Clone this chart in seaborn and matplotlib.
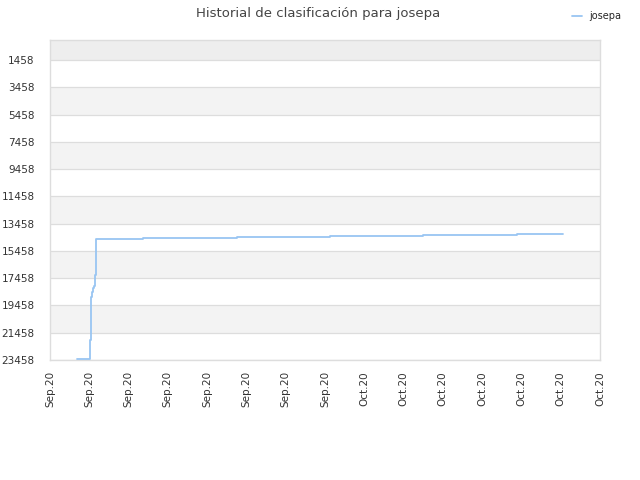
import numpy as np
import pandas as pd
import seaborn as sns
import matplotlib.pyplot as plt
import matplotlib.dates as mdates

# datos (dias desde el 23 sep 2020, posicion en la clasificacion)
dias = [0.68, 1.02, 1.04, 1.07, 1.09, 1.12, 1.14, 1.16, 2.36, 4.75, 7.13, 9.49, 11.88, 13.07]
posicion = [23400, 21990, 18820, 18450, 18180, 18010, 17220, 14580, 14490, 14420, 14340, 14270, 14200, 14200]
yticks = [1458, 3458, 5458, 7458, 9458, 11458, 13458, 15458, 17458, 19458, 21458, 23458]
inicio = pd.Timestamp("2020-09-23")
xticks = pd.date_range("2020-09-23", "2020-10-07", freq="D")

df = pd.DataFrame({
    "fecha": inicio + pd.to_timedelta(dias, unit="D"),
    "posicion": posicion,
    "jugador": "josepa",
})

sns.set_style("white")
plt.rcParams['font.family'] = ['DejaVu Sans']

fig = plt.figure(figsize=(6.4, 4.8), dpi=100)
ax = fig.add_axes([50 / 640, 120 / 480, 550 / 640, 320 / 480])

# bandas alternas de fondo
ax.axhspan(-8, yticks[0], color="#eeeeee", zorder=0, lw=0)
for i in range(len(yticks) - 1):
    if i % 2 == 1:
        ax.axhspan(yticks[i], yticks[i + 1], color="#f3f3f3", zorder=0, lw=0)
for y in yticks:
    ax.axhline(y, color="#dddddd", lw=0.9, zorder=1)

sns.lineplot(data=df, x="fecha", y="posicion", hue="jugador", palette=["#99c5f2"],
             drawstyle="steps-post", estimator=None, sort=False, lw=1.3, ax=ax,
             legend=False, zorder=3)

ax.set_ylim(23458, -8)
ax.set_yticks(yticks)
ax.set_xlim(xticks[0], xticks[-1])
ax.set_xticks(xticks)
ax.xaxis.set_major_formatter(mdates.DateFormatter("%b.%y"))
ax.tick_params(axis="x", rotation=90, length=0, pad=8, labelsize=7.5, labelcolor="#333333")
ax.tick_params(axis="y", length=0, pad=11, labelsize=7.5, labelcolor="#333333")
ax.set_xlabel("")
ax.set_ylabel("")
for s in ax.spines.values():
    s.set_color("#dddddd")
    s.set_linewidth(1)

fig.text(0.497, 0.972, "Historial de clasificación para josepa", ha="center", va="center",
         fontsize=9.5, color="#444444")
h = plt.Line2D([], [], color="#99c5f2", lw=1.3)
fig.legend([h], ["josepa"], loc="upper right", bbox_to_anchor=(0.985, 0.995), frameon=False,
           fontsize=7, handlelength=1.0, handletextpad=0.8)

plt.savefig("out.png", dpi=100)
